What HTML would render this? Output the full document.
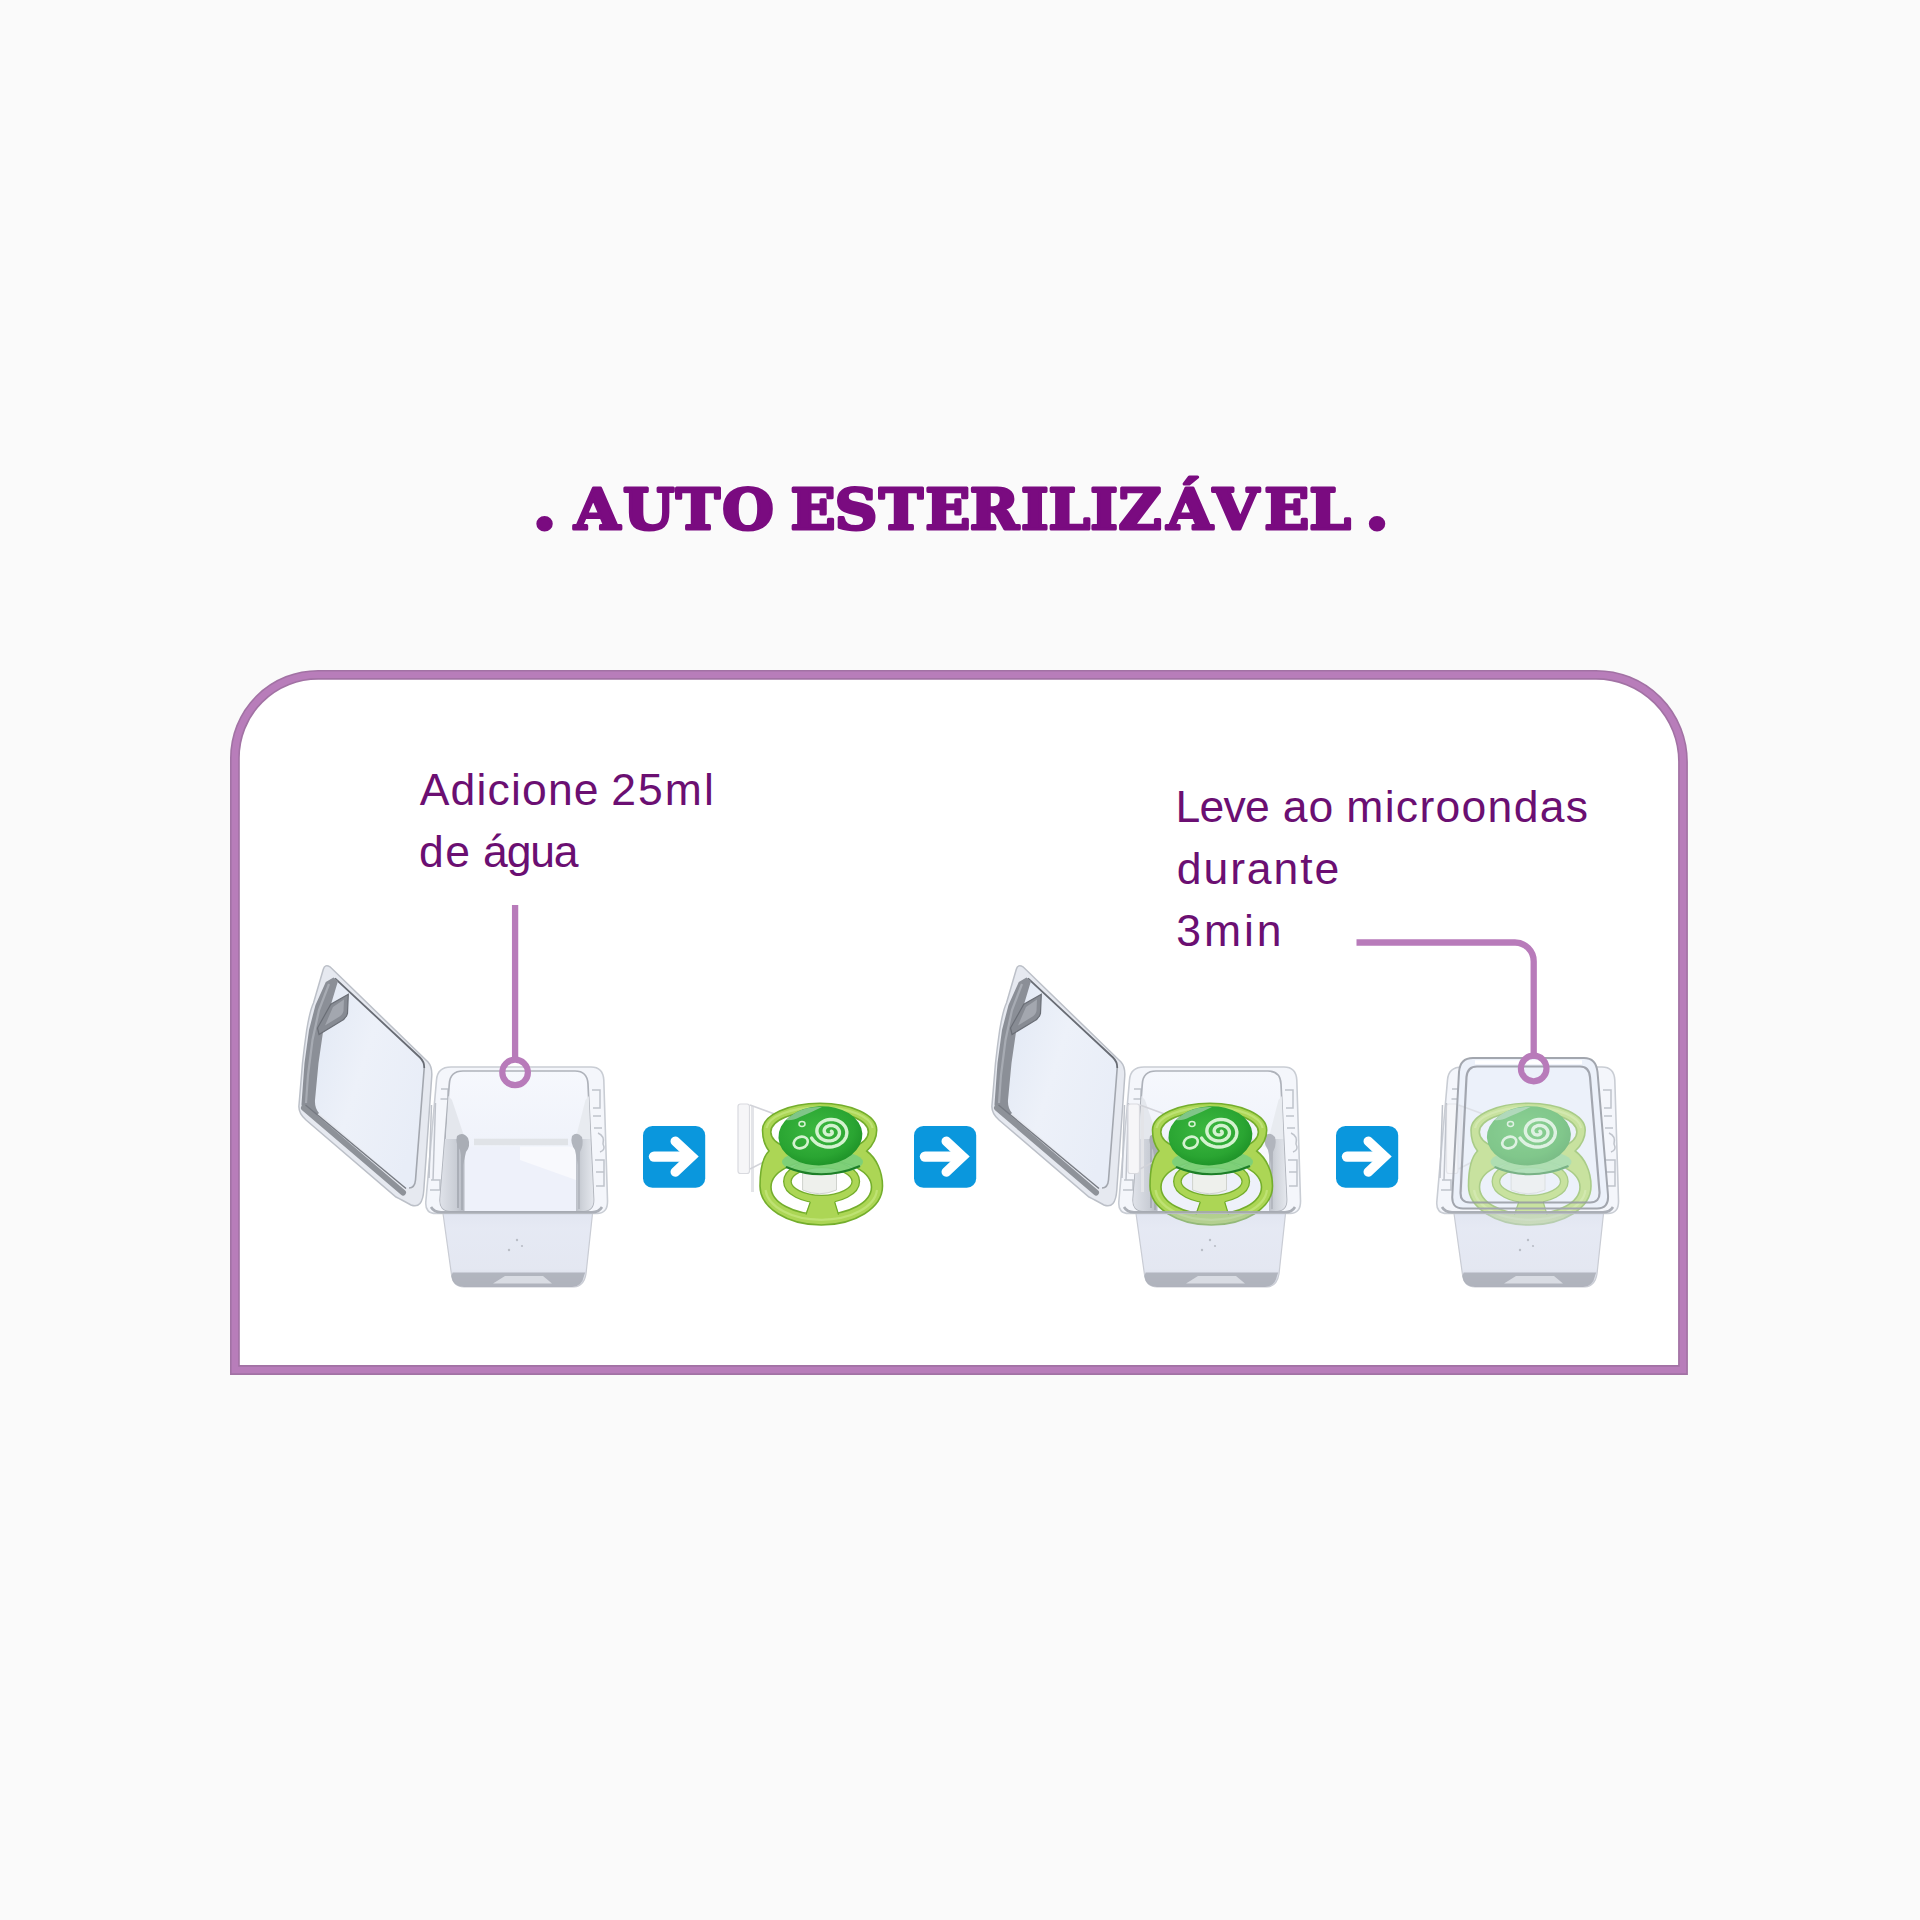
<!DOCTYPE html>
<html lang="pt-BR">
<head>
<meta charset="utf-8">
<title>Auto Esterilizável</title>
<style>
html,body{margin:0;padding:0;}
body{width:1920px;height:1920px;background:#fafafa;position:relative;overflow:hidden;font-family:"Liberation Sans",sans-serif;}
#gfx{position:absolute;left:0;top:0;}
</style>
</head>
<body>
<svg id="gfx" width="1920" height="1920" viewBox="0 0 1920 1920">
<defs>
<!--DEFS0--><linearGradient id="gBack" x1="0" y1="0" x2="0" y2="1"><stop offset="0" stop-color="#f6f8fd"/><stop offset="1" stop-color="#eaeef8"/></linearGradient>
<linearGradient id="gWallL" x1="0" y1="0" x2="1" y2="0"><stop offset="0" stop-color="#dfe2e9"/><stop offset="0.65" stop-color="#c9cdd5"/><stop offset="1" stop-color="#b3b7c0"/></linearGradient>
<linearGradient id="gWallR" x1="1" y1="0" x2="0" y2="0"><stop offset="0" stop-color="#e4e7ed"/><stop offset="0.6" stop-color="#cfd3da"/><stop offset="1" stop-color="#bcc0c8"/></linearGradient>
<linearGradient id="gLower" x1="0" y1="0" x2="0" y2="1"><stop offset="0" stop-color="#b9c3de" stop-opacity="0.42"/><stop offset="0.2" stop-color="#c2cbe4" stop-opacity="0.42"/><stop offset="0.75" stop-color="#c9d0e4" stop-opacity="0.5"/><stop offset="1" stop-color="#c9ccd6" stop-opacity="0.8"/></linearGradient>
<linearGradient id="gLid" x1="0" y1="0" x2="1" y2="0.6"><stop offset="0" stop-color="#e1e8f4"/><stop offset="0.5" stop-color="#edf1f9"/><stop offset="1" stop-color="#e8edf7"/></linearGradient>
<radialGradient id="gBtn" cx="0.45" cy="0.4" r="0.65"><stop offset="0" stop-color="#3cb840"/><stop offset="0.7" stop-color="#2aa532"/><stop offset="1" stop-color="#1c8f26"/></radialGradient>
<!--DEFS1-->
</defs>
<!-- frame -->
<path id="frame" d="M234.9 1370V758a83.2 83.2 0 0 1 83.2 -83.2H1596a87 87 0 0 1 87 87V1370Z" fill="#ffffff" stroke="#a272a4" stroke-width="9.8" stroke-linejoin="miter"/>
<path d="M234.9 1370V758a83.2 83.2 0 0 1 83.2 -83.2H1596a87 87 0 0 1 87 87V1370Z" fill="none" stroke="#b87dba" stroke-width="6.6" stroke-linejoin="miter"/>
<!-- title -->
<text id="title" transform="scale(1.055 1)" y="529" font-family="'DejaVu Serif','Liberation Serif',serif" font-weight="bold" font-size="56" fill="#7a0b80" stroke="#7a0b80" stroke-width="3.1" stroke-linejoin="round" xml:space="preserve"><tspan x="504.5" font-size="67">.</tspan><tspan> </tspan><tspan x="544.3 590.5 640.8 684.6">AUTO</tspan><tspan> </tspan><tspan x="749.3 791.2 833.3 877.0 919.2 967.7 993.8 1033.4 1060.3 1105.9 1149.8 1198.4 1240.9">ESTERILIZÁVEL</tspan><tspan> </tspan><tspan x="1293.5" font-size="67">.</tspan></text>
<!-- labels -->
<g font-family="'Liberation Sans',sans-serif" font-size="44.5" fill="#6b0f72">
<text y="804.5"><tspan x="419.7" letter-spacing="1.17">Adicione</tspan> <tspan x="611.2" letter-spacing="2.05">25ml</tspan></text>
<text y="866.5"><tspan x="419" letter-spacing="1.45">de</tspan> <tspan x="483.1" letter-spacing="-1.2">água</tspan></text>
<text y="822"><tspan x="1175.5" letter-spacing="-0.76">Leve</tspan> <tspan x="1282.7" letter-spacing="0.96">ao</tspan> <tspan x="1346.3" letter-spacing="1.3">microondas</tspan></text>
<text y="883.5"><tspan x="1176.8" letter-spacing="1.92">durante</tspan></text>
<text y="945.5"><tspan x="1176.3" letter-spacing="2.91">3min</tspan></text>
</g>
<!--PRODUCTS0--><defs>
<g id="rim">
  <path d="M451 1067H591Q603 1067 603.8 1080L607.5 1200Q608 1213.5 597 1213.5H436Q425 1213.5 425.8 1202L436.5 1080Q437.5 1067 451 1067Z" fill="#f4f6fb" stroke="#c9cdd4" stroke-width="1.6"/>
  <g fill="none" stroke="#bfc3cb" stroke-width="1.5">
    <path d="M441 1089H448V1099H440.5"/><path d="M431.5 1105L429 1178"/><path d="M435.5 1103L433 1180"/>
    <path d="M431 1180H440V1190H430"/>
    <path d="M592 1090H600V1108H593M593 1116H601M594 1128H602M595 1160H604V1186H596M596 1172H604"/>
    <path d="M598 1133Q605 1136 603 1144Q606 1150 600 1152"/>
  </g>
</g>
<g id="interior">
  <path d="M463 1071H575Q587.3 1071 588 1084L593.5 1199Q594 1211 583 1211H450.5Q439.5 1211 440.2 1199L449.3 1084Q450 1071 463 1071Z" fill="url(#gBack)" stroke="#aeb2ba" stroke-width="1.7"/>
  <path d="M448.4 1096L452 1100L465 1139L446 1139Z" fill="#e4e7ed"/><path d="M445 1139H465V1211H450.5Q439.5 1211 440.2 1199Z" fill="url(#gWallL)"/>
  <path d="M588.8 1096L585.5 1100L575.5 1139L590.6 1139Z" fill="#e8ebf0"/><path d="M575.5 1139H590.6L593.5 1199Q594 1211 583 1211H575.5Z" fill="url(#gWallR)"/>
  <path d="M458 1141V1208M462 1141V1210" stroke="#a4a8b1" stroke-width="1.6" fill="none"/>
  <path d="M579 1141V1209" stroke="#aeb2ba" stroke-width="1.5" fill="none"/>
  <rect x="474" y="1138.7" width="94" height="6.5" fill="#e0e3e7"/>
  <path d="M470.5 1146.5H569.5Q576 1146.5 576 1153V1211H464.5V1153Q464.5 1146.5 470.5 1146.5Z" fill="#eef1fa"/>
  <path d="M520 1146.5H569.5Q576 1146.5 576 1153V1180L520 1160Z" fill="#f8f9fd"/>
  <path d="M457 1136Q463 1131 468 1138Q471 1146 466 1152L463 1165L460 1150Q455 1143 457 1136Z" fill="#a9adb5"/>
  <path d="M572 1136Q577 1131 582 1137Q584 1145 580 1152L578 1165L575 1150Q570 1143 572 1136Z" fill="#b1b5bd"/>
</g>
<g id="bodyFront">
  <path d="M443 1213.5L451.4 1274Q452.5 1286.5 464 1287H574Q584 1286.5 586 1274L592.5 1213.5Z" fill="url(#gLower)" stroke="#c9ccd4" stroke-width="1.2"/>
  <path d="M452.6 1272.5H585.2L584 1276Q582 1286.5 572 1287H464Q452.5 1286.5 451.4 1276Z" fill="#a9adb6" opacity="0.85"/><path d="M505 1276H543L552 1283.5H493Z" fill="#d9dce3"/>
  
  <path d="M431 1207Q434 1212.3 441 1212.3H592Q599 1212.3 602 1207" stroke="#a3a7af" stroke-width="2.6" fill="none" opacity="0.9"/>
  <g fill="#b9bdc6"><circle cx="517" cy="1240" r="1.2"/><circle cx="522" cy="1246" r="1.1"/><circle cx="509" cy="1250" r="1.2"/></g>
</g>
<g id="lidOpen">
  <path d="M323.3 969.2Q325 963.8 330 966.8L428 1062Q432.5 1067 431.7 1077L423.8 1190Q422.5 1209.5 411 1205Q402 1200 396 1197L306 1120Q298 1113 299 1105Q301 1080 302.5 1063Q304.5 1045 306.7 1030Q310 1010 313.5 1003Z" fill="#e6e9f0" stroke="#bcc0c8" stroke-width="1.5"/>
  <path d="M336 979L420 1057.5Q424.5 1062 424.2 1068L415.5 1180Q414.5 1191 406 1187.5L319 1113Q314.5 1108 315 1100L318.5 1063L323.3 1030L330.8 1005Z" fill="url(#gLid)"/>
  <path d="M335 978.3L420 1057.5Q424.5 1062 424.2 1068" fill="none" stroke="#686c74" stroke-width="1.8"/>
  <path d="M424.2 1068L415.5 1180Q414.8 1188 409 1188" fill="none" stroke="#a3a7af" stroke-width="1.6"/>
  <!-- left wall band -->
  <path d="M333.5 977.5L338 981L330.8 1005L323.3 1030L318.5 1063L315 1100Q314.5 1108 319 1113L314 1117.5Q301 1112 301.5 1104L304.5 1063L309 1030L315.5 1005L325.8 982Z" fill="#8b8f97"/>
  <path d="M329 984L319 1010L312.5 1040L308 1075L306 1103" fill="none" stroke="#a7abb3" stroke-width="2.2"/>
  <!-- bottom band -->
  <path d="M304 1108L403 1192.5" fill="none" stroke="#8e9299" stroke-width="6" stroke-linecap="round"/>
  <path d="M305.5 1105L406 1188.5" fill="none" stroke="#767a82" stroke-width="1.4"/>
  <!-- tab -->
  <path d="M348.3 994.2L347.5 1013.3Q346 1019 340 1021.7L319 1034.5L317.5 1028L330.8 1004.2Z" fill="#878b93" stroke="#6a6e76" stroke-width="1.2"/>
  <path d="M344 999.5L343.5 1011Q342.5 1015 338 1017.5L325 1025.5L333 1007Z" fill="#a3a7af"/>
</g>

<g id="paci">
  <!-- clip / handle (white) -->
  <g fill="#f6f6f8" stroke="#d9dadf" stroke-width="1.2">
    <rect x="738" y="1104" width="11.5" height="69.5" rx="2.5"/>
    <path d="M752.5 1106V1192" fill="none" stroke="#e3e4e8" stroke-width="3"/>
    <path d="M750 1105L780 1116M750 1169L783 1152" fill="none" stroke="#d2d3d9" stroke-width="1.6"/>
  </g>
  <!-- shield (figure-8) -->
  <path fill-rule="evenodd" fill="#acd655" stroke="#74ae2c" stroke-width="1.6" d="M820 1103.3C851 1103.3 876.7 1115 876.7 1130C876.7 1139 872 1146 866.7 1151C876 1158 882.5 1171 882.5 1186C882.5 1208 855 1225 821.25 1225C787.5 1225 760 1208 760 1186C760 1171 762 1158 769 1151C765 1146 762.5 1139 762.5 1130C762.5 1115 789 1103.3 820 1103.3Z
  M819.6 1111.3C846.5 1111.3 868.4 1120.5 868.4 1132C868.4 1143.5 846.5 1153.5 819.6 1153.5C792.7 1153.5 770.8 1143.5 770.8 1132C770.8 1120.5 792.7 1111.3 819.6 1111.3Z
  M821.25 1160C849 1160 871.5 1172 871.5 1187C871.5 1202.5 849 1214.5 821.25 1214.5C793.5 1214.5 771 1202.5 771 1187C771 1172 793.5 1160 821.25 1160Z"/>
  <path fill="none" stroke="#c3e57a" stroke-width="2.2" opacity="0.8" d="M766.5 1128C768 1117 790 1107.3 820 1107.3C850 1107.3 871 1117 872.7 1128M765.5 1190C768 1207 792 1219.8 821.25 1219.8C850.5 1219.8 875 1207 877 1190"/>
  <!-- inner ring + bar -->
  <ellipse cx="821.6" cy="1181.5" rx="34.2" ry="17.6" fill="none" stroke="#74ae2c" stroke-width="8.8"/>
  <ellipse cx="821.6" cy="1181.5" rx="34.2" ry="17.6" fill="none" stroke="#acd655" stroke-width="6.2"/>
  <path d="M810.5 1201Q811 1198 814 1198H831Q834 1198 834.5 1201L839.5 1216H804.5Z" fill="#acd655"/>
  <path d="M810.3 1202L806 1214.6M834.7 1202L838.5 1214.6" fill="none" stroke="#6eab28" stroke-width="1.2"/>
  <!-- nipple base -->
  <path d="M802.6 1172H836.5V1190Q819.5 1197.5 802.6 1190Z" fill="#eef0ec" stroke="#cfd2cd" stroke-width="1"/>
  <!-- skirt -->
  <ellipse cx="822.5" cy="1162" rx="40.5" ry="12.5" fill="#79cf7c" opacity="0.9"/>
  <path d="M786 1167Q822 1182 860 1166" fill="none" stroke="#1d7f28" stroke-width="2.2"/>
  <!-- button -->
  <ellipse cx="820.4" cy="1135.8" rx="42" ry="29.6" fill="url(#gBtn)" transform="rotate(-3 820.4 1135.8)"/>
  <path d="M786 1120Q800 1106 822 1107Q812 1112 800 1117Q792 1121 786 1120Z" fill="#9ccfa4" opacity="0.75"/>
  <g fill="none" stroke="#d4f2d0" stroke-linecap="round">
    <path d="M831.4 1131.2 L831.6 1131.3 L831.8 1131.5 L832.0 1131.7 L832.1 1131.9 L832.2 1132.2 L832.2 1132.4 L832.2 1132.7 L832.2 1133.1 L832.1 1133.4 L831.9 1133.7 L831.6 1134.0 L831.3 1134.2 L830.9 1134.5 L830.5 1134.7 L830.0 1134.8 L829.5 1134.9 L829.0 1135.0 L828.4 1134.9 L827.8 1134.9 L827.2 1134.7 L826.7 1134.5 L826.1 1134.2 L825.6 1133.8 L825.2 1133.4 L824.8 1132.9 L824.5 1132.3 L824.3 1131.7 L824.2 1131.1 L824.2 1130.5 L824.3 1129.8 L824.5 1129.2 L824.9 1128.5 L825.3 1127.9 L825.9 1127.3 L826.5 1126.8 L827.3 1126.4 L828.1 1126.0 L829.0 1125.7 L829.9 1125.5 L830.9 1125.5 L832.0 1125.5 L833.0 1125.6 L834.0 1125.9 L835.0 1126.3 L835.9 1126.8 L836.8 1127.4 L837.5 1128.1 L838.2 1128.9 L838.7 1129.7 L839.1 1130.7 L839.4 1131.6 L839.4 1132.7 L839.4 1133.7 L839.1 1134.7 L838.7 1135.7 L838.1 1136.7 L837.3 1137.6 L836.4 1138.5 L835.4 1139.2 L834.2 1139.8 L832.9 1140.3 L831.5 1140.7 L830.1 1140.9 L828.6 1140.9 L827.1 1140.8 L825.6 1140.6 L824.2 1140.1 L822.8 1139.5 L821.5 1138.8 L820.3 1137.9 L819.3 1136.9 L818.4 1135.7 L817.7 1134.5 L817.2 1133.2 L816.9 1131.8 L816.9 1130.4 L817.1 1128.9 L817.5 1127.5 L818.1 1126.2 L819.0 1124.9 L820.0 1123.6 L821.3 1122.6 L822.8 1121.6 L824.4 1120.8 L826.1 1120.2 L828.0 1119.7 L829.9 1119.5 L831.9 1119.4 L833.8 1119.6 L835.8 1120.0 L837.7 1120.6 L839.5 1121.4 L841.1 1122.5 L842.6 1123.6 L843.9 1125.0 L845.0 1126.5 L845.9 1128.1 L846.4 1129.8 L846.8 1131.6 L846.8 1133.4 L846.5 1135.2 L846.0 1137.0 L845.1 1138.7 L844.0 1140.4 L842.6 1141.9 L841.0 1143.2 L839.1 1144.4 L837.1 1145.4 L834.9 1146.2 L832.5 1146.7 L830.1 1147.0 L827.7 1147.0 L825.2 1146.7 L822.8 1146.2 L820.5 1145.4 L818.3 1144.4 L816.3 1143.1 L814.5 1141.6 L812.9 1139.9 L811.6 1138.1" stroke-width="3.4"/>
    <ellipse cx="800.8" cy="1142.5" rx="7.2" ry="5.6" stroke-width="2.6" transform="rotate(-20 800.8 1142.5)"/>
    <ellipse cx="802" cy="1124" rx="3" ry="2.4" stroke-width="1.5"/>
  </g>
</g>
</defs>
<!-- step 1 -->
<use href="#lidOpen"/><use href="#rim"/><use href="#interior"/><use href="#bodyFront"/>
<!-- step 2 -->
<use href="#paci"/>
<!-- step 3 -->
<use href="#lidOpen" x="693"/><use href="#rim" x="693"/><use href="#interior" x="693"/><use href="#paci" x="390"/><use href="#bodyFront" x="693"/>
<!-- step 4 -->
<use href="#rim" x="1011"/>
<path d="M1473 1058H1584Q1596 1058 1597.5 1072L1608 1195Q1609 1208.5 1597 1208.5H1463Q1451.5 1208.5 1452.3 1196L1459 1072Q1460 1058 1473 1058Z" fill="#ecf1fa"/>
<use href="#paci" x="708.5" opacity="0.55"/>
<use href="#bodyFront" x="1011"/>
<g fill="none">
<path d="M1473 1058H1584Q1596 1058 1597.5 1072L1608 1195Q1609 1208.5 1597 1208.5H1463Q1451.5 1208.5 1452.3 1196L1459 1072Q1460 1058 1473 1058Z" stroke="#a2a6ae" stroke-width="2"/>
<path d="M1477 1066.5H1580Q1589 1066.5 1590 1077L1599.5 1192Q1600 1202.5 1590 1202.5H1470Q1460 1202.5 1460.6 1192L1466.5 1077Q1467.5 1066.5 1477 1066.5Z" stroke="#9599a1" stroke-width="2.2" opacity="0.85"/>
<path d="M1475 1062.3H1582" stroke="#ffffff" stroke-width="4"/>
</g>
<!--PRODUCTS1-->
<!-- connectors -->
<g fill="none" stroke="#b87bba" stroke-width="6.3">
<path d="M515.1 905V1058"/>
<circle cx="515.1" cy="1072.4" r="12.8" stroke-width="6.2"/>
<path d="M1356.5 942.5H1515a18.7 18.7 0 0 1 18.7 18.7V1053"/>
<circle cx="1533.7" cy="1068.5" r="12.8" stroke-width="6.2"/>
</g>
<!-- arrows -->
<g id="arw"><rect x="643" y="1126" width="62.2" height="61.8" rx="9.5" fill="#0a97dd"/><path d="M654 1156.6H690" fill="none" stroke="#fff" stroke-width="10.4" stroke-linecap="round"/><path d="M675.3 1141.3L691.7 1156.6L675.3 1171.9" fill="none" stroke="#fff" stroke-width="9.6" stroke-linecap="round" stroke-linejoin="miter"/></g>
<use href="#arw" x="271"/>
<use href="#arw" x="693"/>
</svg>
</body>
</html>
